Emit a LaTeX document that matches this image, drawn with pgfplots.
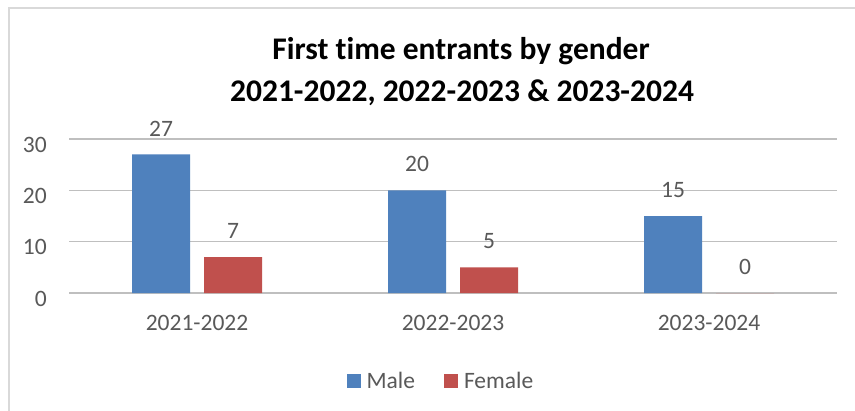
\documentclass[border=0pt]{standalone}
\usepackage{pgfplots}
\pgfplotsset{compat=1.18}
\usepackage{fontspec}
\setmainfont{Carlito}[Ligatures=NoCommon]
\definecolor{male}{HTML}{4F81BD}
\definecolor{female}{HTML}{C0504D}
\definecolor{txt}{HTML}{595959}
\definecolor{grid}{HTML}{D9D9D9}
\begin{document}
\begin{tikzpicture}
\useasboundingbox (0,0) rectangle (855bp,-411bp);
\fill[white] (0,0) rectangle (855bp,-411bp);
\draw[grid, line width=1.5bp] (9bp,-411bp) -- (9bp,-8bp) -- (855bp,-8bp);
\node[font=\fontsize{31.5bp}{37bp}\selectfont\bfseries, text=black, align=center] at (461bp,-51bp) {First time entrants by gender};
\node[font=\fontsize{31.5bp}{37bp}\selectfont\bfseries, text=black, align=center] at (462bp,-93bp) {2021-2022, 2022-2023 \& 2023-2024};
\begin{axis}[
  at={(69bp,-293bp)}, anchor=south west,
  width=768bp, height=154bp, scale only axis,
  xmin=-0.5, xmax=2.5, ymin=0, ymax=30,
  ybar, bar width=58bp,
  xtick={0,1,2}, xticklabels={2021-2022,2022-2023,2023-2024},
  ytick={0,10,20,30},
  major tick length=0pt,
  axis line style={draw=none},
  ymajorgrids, xmajorgrids=false, grid style={grid, line width=1.3bp},
  /pgf/number format/assume math mode=true,
  tick label style={font=\fontsize{23.5bp}{28bp}\selectfont, text=txt, inner sep=0pt},
  yticklabel style={anchor=east, xshift=-22bp, yshift=-5.5bp},
  xticklabel style={anchor=north, yshift=-22bp},
  nodes near coords,
  every node near coord/.append style={font=\fontsize{23.5bp}{28bp}\selectfont, text=txt, inner sep=0pt, anchor=south, yshift=18bp},
  legend style={at={(0.483,-0.571)}, anchor=center, draw=none, fill=none, legend columns=2,
    font=\fontsize{23.5bp}{28bp}\selectfont, text=txt,
    /tikz/every odd column/.append style={column sep=6bp},
    /tikz/every even column/.append style={column sep=29bp},
    nodes={inner sep=0pt}},
  legend cell align=left,
  legend image code/.code={\fill[#1] (0bp,-7bp) rectangle (14bp,7bp);},
  clip=false,
]
\addplot[fill=male, draw=none, bar shift=-36bp] coordinates {(0,27) (1,20) (2,15)};
\addplot[fill=female, draw=none, bar shift=36bp] coordinates {(0,7) (1,5) (2,0)};
\legend{Male,Female}
\end{axis}
\end{tikzpicture}
\end{document}
